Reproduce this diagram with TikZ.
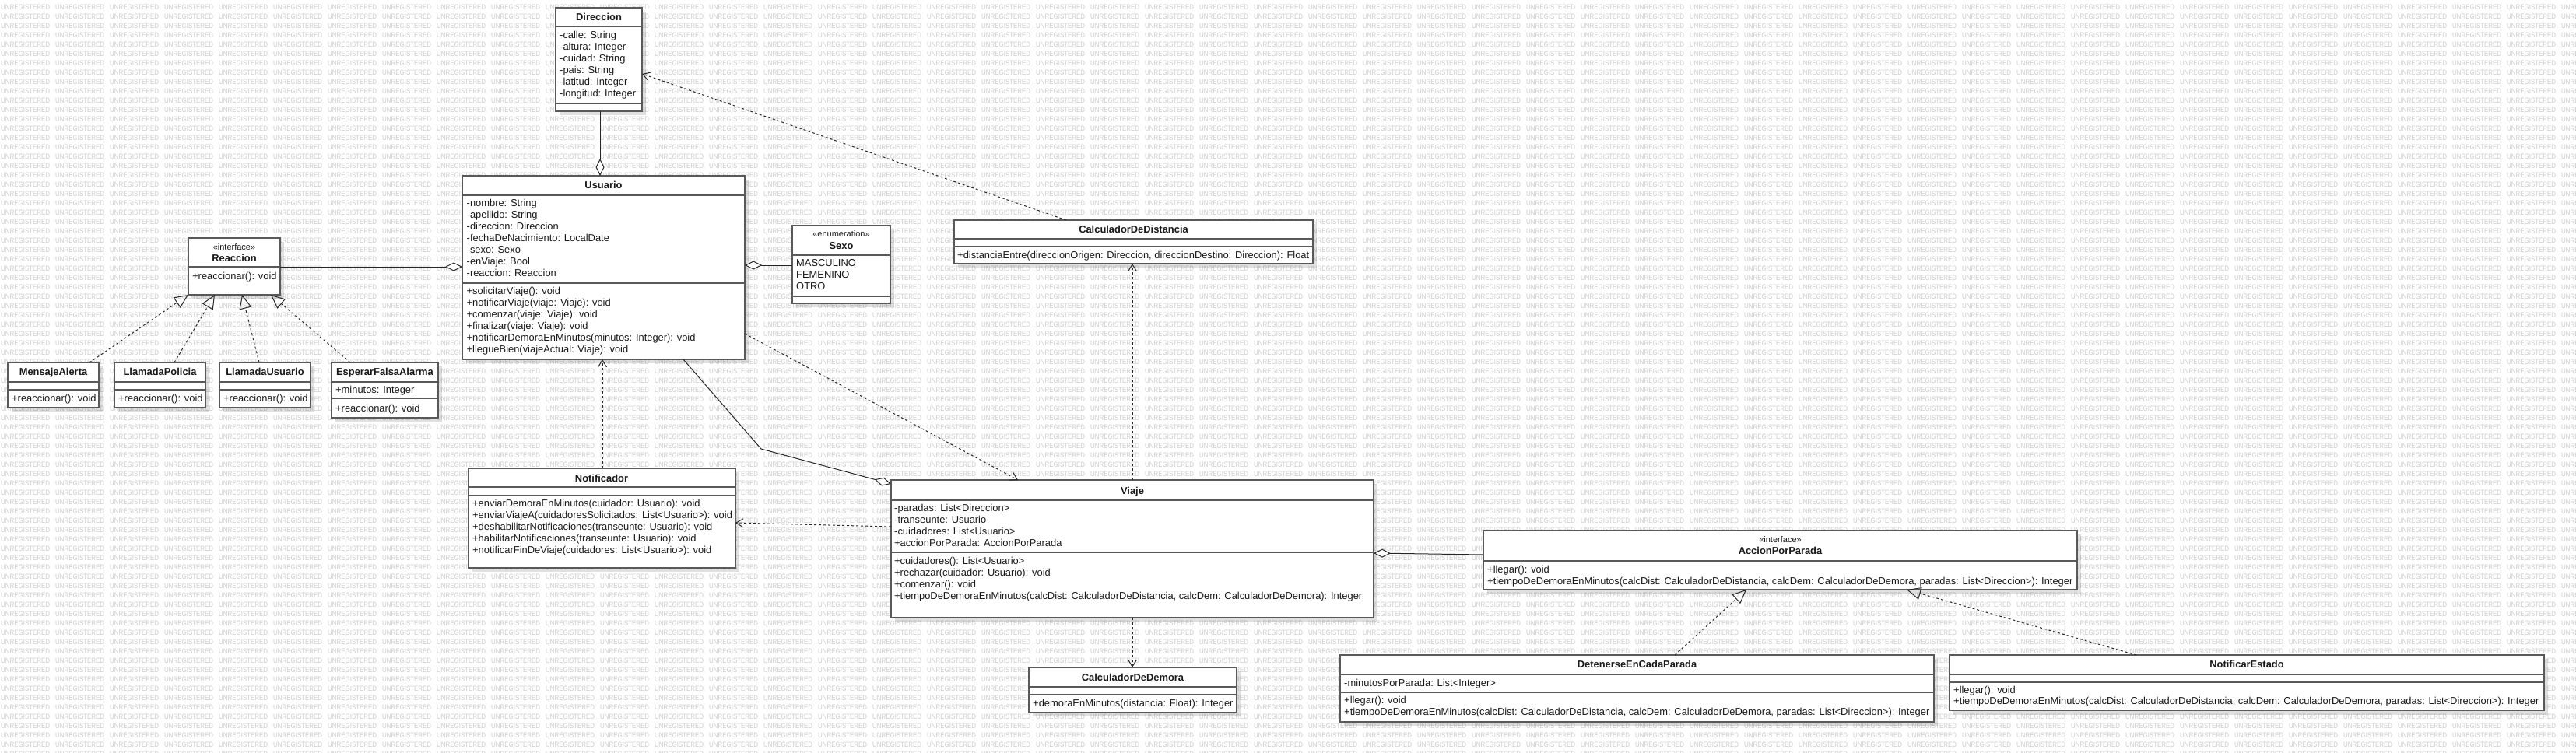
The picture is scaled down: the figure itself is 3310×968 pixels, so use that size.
\documentclass[tikz,border=0pt]{standalone}
\usepackage{fontspec}
\setmainfont{Liberation Sans}
\usetikzlibrary{calc,arrows.meta,shadows}
\newsavebox\wmword
\newsavebox\wmrow
\newcommand\umllines[2][15pt]{\vtop{\baselineskip=#1\lineskiplimit=-20pt\halign{##\hfil\cr#2\crcr}}}
\newcommand\umlclass[5]{\node[cls, minimum width=#4pt, minimum height=#5pt, anchor=north west] (#1) at (#2,#3) {};}
\newcommand\umldiv[2]{\draw[clsline] ($(#1.north west)+(0,#2)$) -- ($(#1.north east)+(0,#2)$);}
\tikzset{
  cls/.style={draw=black!65, line width=1.8pt, fill=white, inner sep=0pt, outer sep=0pt,
    drop shadow={shadow xshift=5pt, shadow yshift=-5pt, opacity=.12, fill=black}},
  clsline/.style={draw=black!65, line width=1.8pt},
  txt/.style={inner sep=0pt, text=black!90, font=\fontsize{12.9}{15}\selectfont, anchor=base west},
  ttl/.style={inner sep=0pt, text=black!90, font=\fontsize{12.9}{15}\selectfont\bfseries, anchor=base},
  stereo/.style={inner sep=0pt, text=black!90, font=\fontsize{11}{13}\selectfont, anchor=base},
  conn/.style={draw=black!85, line width=1pt},
  dep/.style={conn, dash pattern=on 3pt off 3pt, -{Straight Barb[length=9pt,width=11pt,line width=1pt]}},
  real/.style={conn, dash pattern=on 3pt off 3pt, -{Triangle[open,length=18pt,width=16pt,line width=1pt]}},
  agg/.style={conn, -{Diamond[fill=white,length=22pt,width=11pt,line width=1pt]}},
}
\begin{document}
\sbox\wmword{\fontsize{10}{12}\selectfont\color{black!20}\resizebox{63pt}{6.5pt}{UNREGISTERED}}%
\sbox\wmrow{\hbox to 3360pt{\leaders\hbox to 70pt{\usebox\wmword\hss}\hfill}}%
\begin{tikzpicture}[x=1pt,y=-1pt]
\useasboundingbox (0,0) rectangle (3310,968);
\fill[white] (0,0) rectangle (3310,968);
\begin{scope}
\clip (0,0) rectangle (3310,968);
\foreach \k in {0,...,80} {\node[inner sep=0pt, anchor=west] (wm\k) at (1,9+12*\k) {\usebox\wmrow};}
\end{scope}

% ---------- Direccion
\umlclass{direccion}{714}{10}{111}{133}
\umldiv{direccion}{24}\umldiv{direccion}{123}
\node[ttl] (direccionT) at (769.5,26.5) {Direccion};
\node[txt] (direccionA) at (719,49.5) {\umllines{-calle: String\cr -altura: Integer\cr -cuidad: String\cr -pais: String\cr -latitud: Integer\cr -longitud: Integer}};

% ---------- Usuario
\umlclass{usuario}{594}{226}{363}{236}
\umldiv{usuario}{25}\umldiv{usuario}{138}
\node[ttl] (usuarioT) at (775.5,242.8) {Usuario};
\node[txt] (usuarioA) at (599.5,265.8) {\umllines{-nombre: String\cr -apellido: String\cr -direccion: Direccion\cr -fechaDeNacimiento: LocalDate\cr -sexo: Sexo\cr -enViaje: Bool\cr -reaccion: Reaccion}};
\node[txt] (usuarioM) at (599.5,378.8) {\umllines{+solicitarViaje(): void\cr +notificarViaje(viaje: Viaje): void\cr +comenzar(viaje: Viaje): void\cr +finalizar(viaje: Viaje): void\cr +notificarDemoraEnMinutos(minutos: Integer): void\cr +llegueBien(viajeActual: Viaje): void}};

% ---------- Sexo
\umlclass{sexo}{1018}{290}{126}{100}
\umldiv{sexo}{37.7}\umldiv{sexo}{90.7}
\node[stereo] (sexoS) at (1081,304.7) {«enumeration»};
\node[ttl] (sexoT) at (1081,320.2) {Sexo};
\node[txt] (sexoA) at (1023,342.8) {\umllines{MASCULINO\cr FEMENINO\cr OTRO}};

% ---------- Reaccion
\umlclass{reaccion}{242}{306}{118}{73}
\umldiv{reaccion}{36.7}
\node[stereo] (reaccionS) at (301,321.7) {«interface»};
\node[ttl] (reaccionT) at (301,336.2) {Reaccion};
\node[txt] (reaccionM) at (247,359.5) {+reaccionar(): void};

% ---------- Reaction implementations
\umlclass{mensaje}{10}{466}{117}{58}
\umldiv{mensaje}{25}\umldiv{mensaje}{35}
\node[ttl] (mensajeT) at (68.5,482.8) {MensajeAlerta};
\node[txt] (mensajeM) at (15,516.2) {+reaccionar(): void};

\umlclass{policia}{147}{466}{117}{58}
\umldiv{policia}{25}\umldiv{policia}{35}
\node[ttl] (policiaT) at (205.5,482.8) {LlamadaPolicia};
\node[txt] (policiaM) at (152,516.2) {+reaccionar(): void};

\umlclass{llusuario}{282}{466}{117}{58}
\umldiv{llusuario}{25}\umldiv{llusuario}{35}
\node[ttl] (llusuarioT) at (340.5,482.8) {LlamadaUsuario};
\node[txt] (llusuarioM) at (287,516.2) {+reaccionar(): void};

\umlclass{esperar}{426}{466}{137}{71}
\umldiv{esperar}{25}\umldiv{esperar}{46}
\node[ttl] (esperarT) at (494.5,482.8) {EsperarFalsaAlarma};
\node[txt] (esperarA) at (431,505.5) {+minutos: Integer};
\node[txt] (esperarM) at (431,529.5) {+reaccionar(): void};

% ---------- CalculadorDeDistancia
\umlclass{calcdist}{1226}{283}{461}{56}
\umldiv{calcdist}{24}\umldiv{calcdist}{34}
\node[ttl] (calcdistT) at (1456.5,299.5) {CalculadorDeDistancia};
\node[txt] (calcdistM) at (1230,332.8) {+distanciaEntre(direccionOrigen: Direccion, direccionDestino: Direccion): Float};

% ---------- Notificador
\umlclass{notificador}{601.5}{602}{343.5}{128}
\umldiv{notificador}{24}\umldiv{notificador}{35}
\node[ttl] (notificadorT) at (773,619.5) {Notificador};
\node[txt] (notificadorM) at (607,651.8) {\umllines{+enviarDemoraEnMinutos(cuidador: Usuario): void\cr +enviarViajeA(cuidadoresSolicitados: List<Usuario>): void\cr +deshabilitarNotificaciones(transeunte: Usuario): void\cr +habilitarNotificaciones(transeunte: Usuario): void\cr +notificarFinDeViaje(cuidadores: List<Usuario>): void}};

% ---------- Viaje
\umlclass{viaje}{1145}{617}{620}{177}
\umldiv{viaje}{26}\umldiv{viaje}{93}
\node[ttl] (viajeT) at (1455,635.2) {Viaje};
\node[txt] (viajeA) at (1149,657.8) {\umllines{-paradas: List<Direccion>\cr -transeunte: Usuario\cr -cuidadores: List<Usuario>\cr +accionPorParada: AccionPorParada}};
\node[txt] (viajeM) at (1149,725.5) {\umllines{+cuidadores(): List<Usuario>\cr +rechazar(cuidador: Usuario): void\cr +comenzar(): void\cr +tiempoDeDemoraEnMinutos(calcDist: CalculadorDeDistancia, calcDem: CalculadorDeDemora): Integer}};

% ---------- AccionPorParada
\umlclass{accion}{1906}{682}{763}{76}
\umldiv{accion}{39}
\node[stereo] (accionS) at (2287.5,697.3) {«interface»};
\node[ttl] (accionT) at (2287.5,712.2) {AccionPorParada};
\node[txt] (accionM) at (1911,736.2) {\umllines{+llegar(): void\cr +tiempoDeDemoraEnMinutos(calcDist: CalculadorDeDistancia, calcDem: CalculadorDeDemora, paradas: List<Direccion>): Integer}};

% ---------- DetenerseEnCadaParada
\umlclass{detenerse}{1722}{842}{763}{86}
\umldiv{detenerse}{25}\umldiv{detenerse}{48}
\node[ttl] (detenerseT) at (2103.5,858.8) {DetenerseEnCadaParada};
\node[txt] (detenerseA) at (1727,882.8) {-minutosPorParada: List<Integer>};
\node[txt] (detenerseM) at (1727,904.5) {\umllines{+llegar(): void\cr +tiempoDeDemoraEnMinutos(calcDist: CalculadorDeDistancia, calcDem: CalculadorDeDemora, paradas: List<Direccion>): Integer}};

% ---------- NotificarEstado
\umlclass{notificar}{2505}{842}{764}{71.5}
\umldiv{notificar}{24.7}\umldiv{notificar}{34.7}
\node[ttl] (notificarT) at (2887,858.5) {NotificarEstado};
\node[txt] (notificarM) at (2510,891.8) {\umllines[14pt]{+llegar(): void\cr +tiempoDeDemoraEnMinutos(calcDist: CalculadorDeDistancia, calcDem: CalculadorDeDemora, paradas: List<Direccion>): Integer}};

% ---------- CalculadorDeDemora
\umlclass{calcdemora}{1322}{858}{267}{58}
\umldiv{calcdemora}{25}\umldiv{calcdemora}{35}
\node[ttl] (calcdemoraT) at (1455.5,875.2) {CalculadorDeDemora};
\node[txt] (calcdemoraM) at (1327,908.5) {+demoraEnMinutos(distancia: Float): Integer};

% ---------- connectors
\draw[agg] ($(direccion.south west)+(57,0)$) -- ($(usuario.north west)+(177,0)$);
\draw[agg] ($(reaccion.north east)+(0,37)$) -- ($(usuario.north west)+(0,117)$);
\draw[agg] ($(sexo.north west)+(0,51)$) -- ($(usuario.north east)+(0,115)$);

\draw[real] ($(mensaje.north west)+(105,0)$) -- (reaccion.south west);
\draw[real] ($(policia.north west)+(77,0)$) -- ($(reaccion.south west)+(34,0)$);
\draw[real] ($(llusuario.north west)+(51,0)$) -- ($(reaccion.south west)+(69,0)$);
\draw[real] ($(esperar.north west)+(24,0)$) -- ($(reaccion.south west)+(106,0)$);

\draw[dep] ($(calcdist.north west)+(144,0)$) -- ($(direccion.north east)+(0,85)$);
\draw[dep] ($(usuario.north east)+(0,203)$) -- ($(viaje.north west)+(163,0)$);
\coordinate (bendUV) at (978,577);
\draw[agg] ($(usuario.south west)+(284,0)$) -- (bendUV) -- ($(viaje.north west)+(0,5)$);
\draw[dep] ($(notificador.north west)+(172.5,0)$) -- ($(usuario.south west)+(180,0)$);
\draw[dep] ($(viaje.north west)+(0,60)$) -- ($(notificador.north east)+(0,70)$);
\draw[dep] ($(viaje.north west)+(310,0)$) -- ($(calcdist.south west)+(229,0)$);
\draw[dep] (viaje.south) -- ($(calcdemora.north west)+(133,0)$);
\draw[agg] ($(accion.north west)+(0,31)$) -- ($(viaje.north east)+(0,94)$);

\draw[real] ($(detenerse.north west)+(430,0)$) -- ($(accion.south west)+(338,0)$);
\draw[real] ($(notificar.north west)+(240,0)$) -- ($(accion.south west)+(544,0)$);
\end{tikzpicture}
\end{document}
